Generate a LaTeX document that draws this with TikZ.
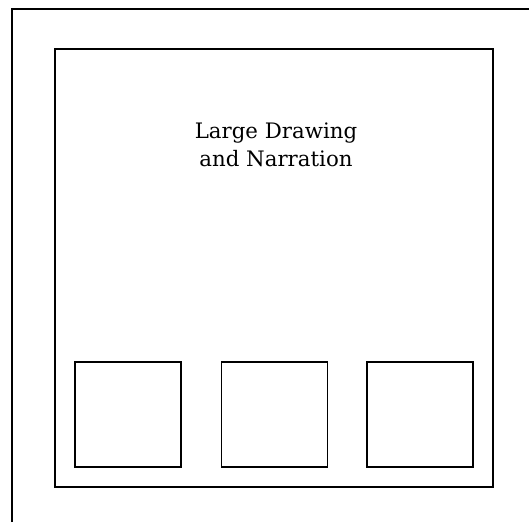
\documentclass[tikz,border=0pt]{standalone}
\usepackage{fontspec}
\setmainfont{DejaVu Serif}
\begin{document}
\begin{tikzpicture}[x=1pt,y=-1pt,line width=1.3pt,
  panel/.style={draw,inner sep=0pt,outer sep=0pt,minimum width=106pt,minimum height=105pt}]
 \useasboundingbox (0,0) rectangle (529,522);
 % outer sheet, cut off at right and bottom
 \draw (12,522) -- (12,9) -- (529,9);
 \node[draw,inner sep=0pt,outer sep=0pt,minimum size=438pt] (page) at (274,268) {};
 \node[align=center,font=\fontsize{21.3}{28}\selectfont] (title) at (276,145) {Large Drawing\\and Narration};
 \node[panel] (left) at (128,414.5) {};
 \node[panel] (middle) at (274.5,414.5) {};
 \node[panel] (right) at (420,414.5) {};
\end{tikzpicture}
\end{document}
